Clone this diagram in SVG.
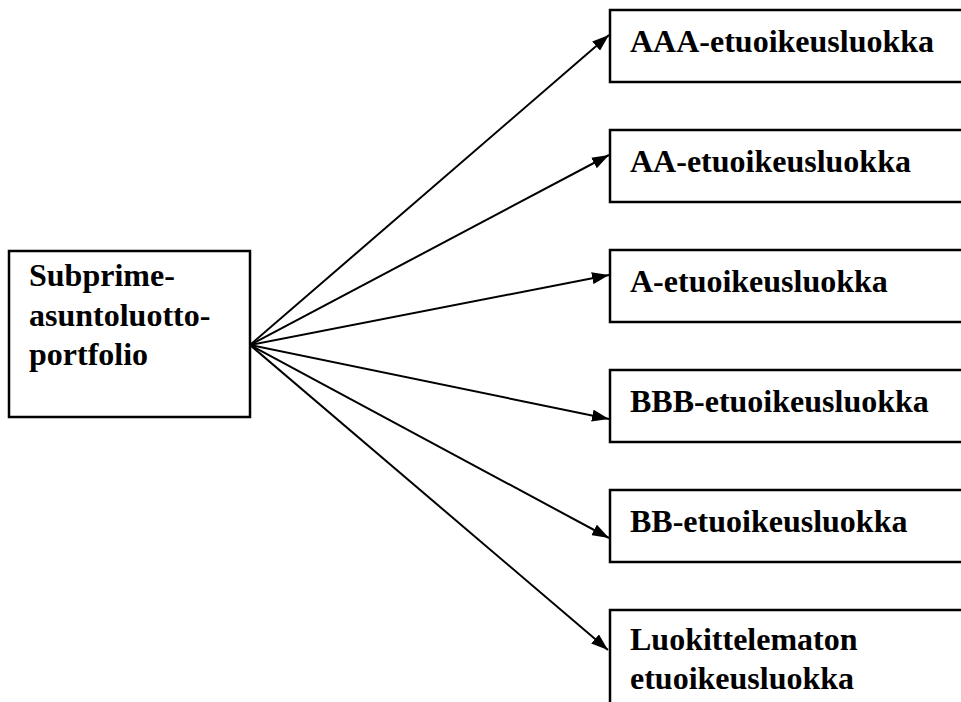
<svg xmlns="http://www.w3.org/2000/svg" width="961" height="702" viewBox="0 0 961 702">
<style>
.box{fill:#fff;stroke:#000;stroke-width:2.5}
.t{font-family:"Liberation Serif","Times New Roman",serif;font-weight:bold;font-size:32px;fill:#000}
.c{stroke:#000;stroke-width:2;fill:none;marker-end:url(#ah)}
</style>
<defs>
<marker id="ah" viewBox="0 0 17 12" refX="17" refY="6" markerWidth="17" markerHeight="12" markerUnits="userSpaceOnUse" orient="auto">
<path d="M0,0 L17,6 L0,12 z" fill="#000"/>
</marker>
</defs>
<rect width="961" height="702" fill="#fff"/>
<g id="connectors">
<line class="c" x1="250" y1="345" x2="609" y2="35"/>
<line class="c" x1="250" y1="345" x2="609" y2="155"/>
<line class="c" x1="250" y1="345" x2="609" y2="275"/>
<line class="c" x1="250" y1="345" x2="609" y2="419"/>
<line class="c" x1="250" y1="345" x2="609" y2="538"/>
<line class="c" x1="250" y1="345" x2="608" y2="650"/>
</g>
<g id="source">
<rect class="box" x="9" y="251" width="241" height="166"/>
<text class="t" x="29" y="286">Subprime-</text>
<text class="t" x="29" y="326">asuntoluotto-</text>
<text class="t" x="29" y="365">portfolio</text>
</g>
<g id="aaa">
<rect class="box" x="610" y="10" width="360" height="72"/>
<text class="t" x="630" y="52">AAA-etuoikeusluokka</text>
</g>
<g id="aa">
<rect class="box" x="610" y="130" width="360" height="72"/>
<text class="t" x="630" y="172">AA-etuoikeusluokka</text>
</g>
<g id="a">
<rect class="box" x="610" y="250" width="360" height="72"/>
<text class="t" x="630" y="292">A-etuoikeusluokka</text>
</g>
<g id="bbb">
<rect class="box" x="610" y="370" width="360" height="72"/>
<text class="t" x="630" y="412">BBB-etuoikeusluokka</text>
</g>
<g id="bb">
<rect class="box" x="610" y="490" width="360" height="72"/>
<text class="t" x="630" y="532">BB-etuoikeusluokka</text>
</g>
<g id="unrated">
<rect class="box" x="610" y="610" width="360" height="110"/>
<text class="t" x="630" y="650">Luokittelematon</text>
<text class="t" x="630" y="689">etuoikeusluokka</text>
</g>
</svg>
